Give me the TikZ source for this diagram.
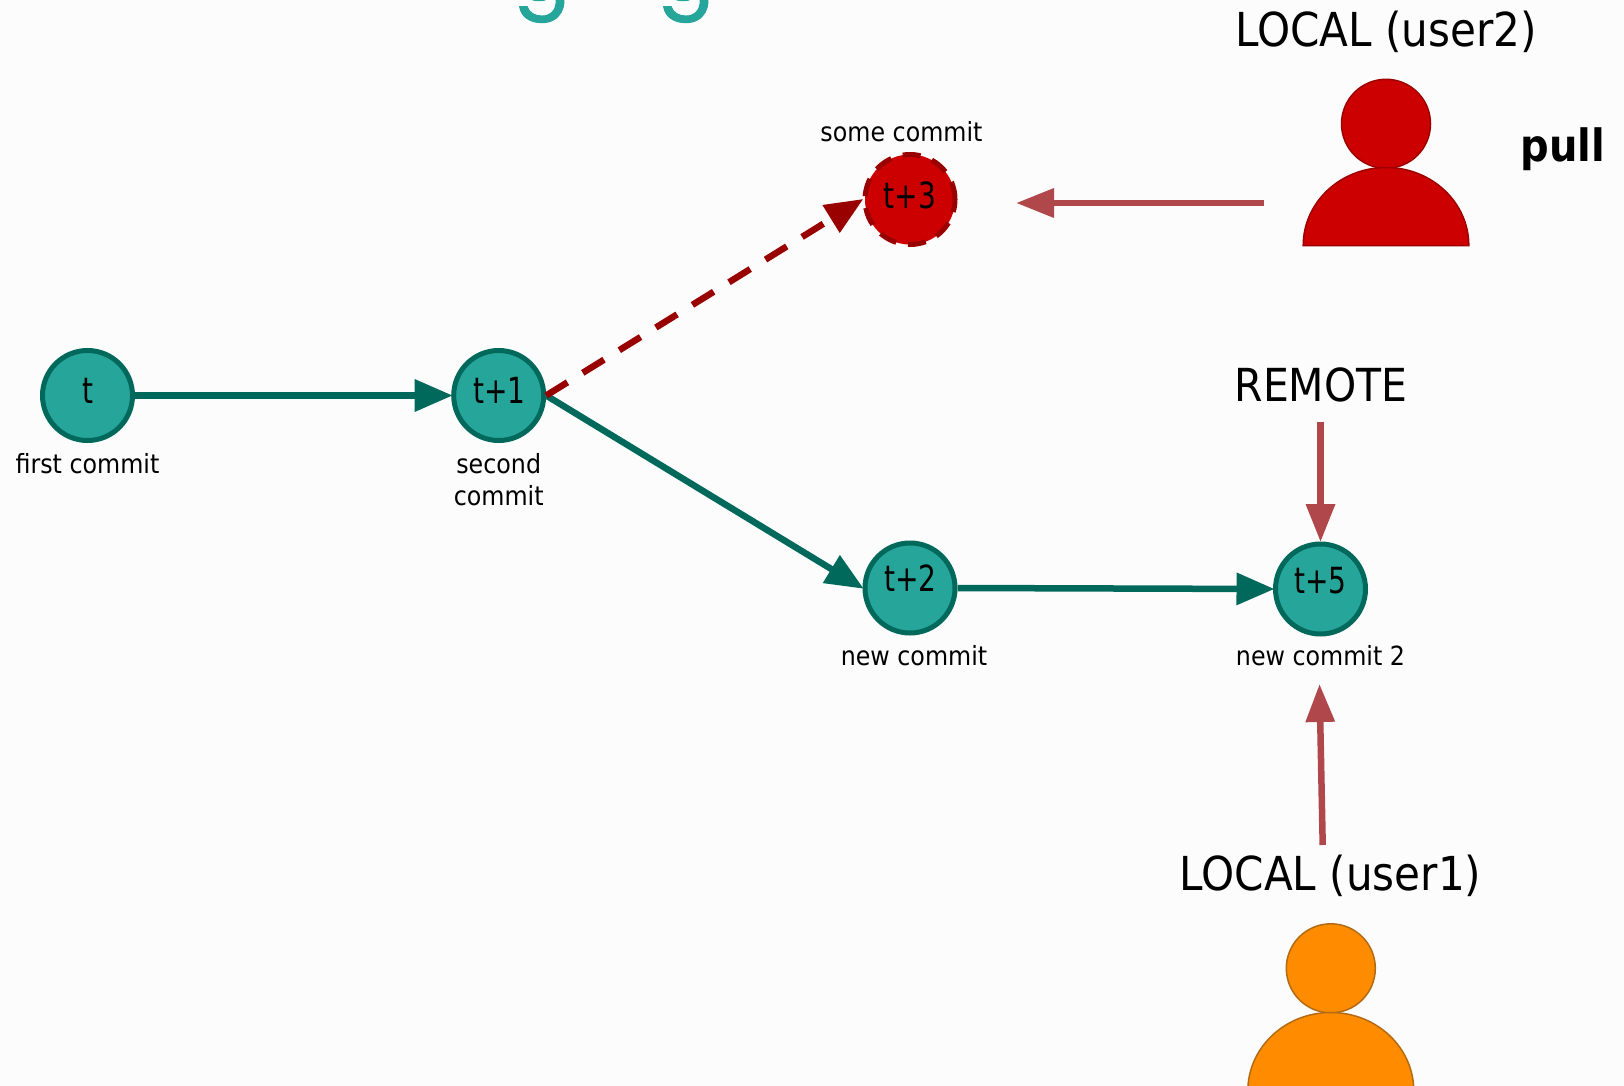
\documentclass[tikz,border=0pt]{standalone}
\usepackage{fontspec}
\setmainfont{DejaVu Sans}[FakeStretch=0.9]
\newfontfamily\narrowfont{DejaVu Sans}[FakeStretch=0.78]
\newfontfamily\titlefont{Poppins}[FakeBold=1.2]
\usetikzlibrary{arrows.meta}
\definecolor{bgc}{HTML}{FCFCFC}
\definecolor{teal1}{HTML}{26A69A}
\definecolor{teal2}{HTML}{00695C}
\definecolor{red1}{HTML}{CC0000}
\definecolor{red2}{HTML}{990000}
\definecolor{rose}{HTML}{B0474A}
\definecolor{orange1}{HTML}{FF8C00}
\definecolor{orange2}{HTML}{B36B12}
\tikzset{
 commit/.style={circle,draw=teal2,fill=teal1,line width=5pt,inner sep=0pt,minimum size=90pt},
 redcommit/.style={commit,draw=red2,fill=red1,dash pattern=on 18pt off 12pt},
 ctext/.style={anchor=base,inner sep=0pt,font=\narrowfont\fontsize{36}{40}\selectfont},
 small/.style={inner sep=0pt,align=center,font=\fontsize{26.4}{32}\selectfont},
 big/.style={inner sep=0pt,font=\fontsize{46.8}{50}\selectfont},
 link/.style={draw=teal2,line width=6.5pt,shorten >=-1.5pt,-{Triangle[length=38pt,width=31pt,fill=teal2]}},
 dashlink/.style={draw=red2,line width=6.5pt,shorten >=-1pt,dash pattern=on 25pt off 18pt,-{Triangle[length=38pt,width=31pt,fill=red2,sep=0pt]}},
 pointer/.style={draw=rose,line width=6.5pt,-{Triangle[length=38pt,width=28pt,fill=rose]}},
 persona/.style={fill=red1,draw=red2!90!red1,line width=1.5pt},
 personb/.style={fill=orange1,draw=orange2,line width=1.5pt},
 titleg/.style={anchor=base,inner sep=0pt,text=teal1,font=\titlefont\fontsize{84}{100}\selectfont}
}
\begin{document}
\begin{tikzpicture}[x=1pt,y=-1pt]
\useasboundingbox (0,0) rectangle (1624,1086);
\fill[bgc] (0,0) rectangle (1624,1086);
\begin{scope}
\clip (0,0) rectangle (1624,1086);
\node[titleg] (gone) at (542,0) {g};
\node[titleg] (gtwo) at (686,0) {g};
% commits
\node[commit] (c0) at (87.5,395.5) {};
\node[commit] (c1) at (498.7,395.5) {};
\node[commit] (c2) at (910,588) {};
\node[commit] (c5) at (1320.5,589) {};
\node[redcommit] (c3) at (910,199.5) {};
\node[ctext] (tc0) at (88,403) {t};
\node[ctext] (tc1) at (499.5,403) {t+1};
\node[ctext] (tc2) at (910.5,591) {t+2};
\node[ctext] (tc5) at (1320.5,593) {t+5};
\node[ctext] (tc3) at (910,208) {t+3};
% captions
\node[small] (l0) at (87.5,463.5) {first commit};
\node[small] (l1) at (498.7,479.5) {second\\commit};
\node[small] (l2) at (914,655.5) {new commit};
\node[small] (l5) at (1320.5,655.5) {new commit 2};
\node[small] (l3) at (901.5,131.5) {some commit};
\node[big] (luser2) at (1386,32) {LOCAL (user2)};
\node[big,font=\fontsize{45.5}{50}\selectfont] (lremote) at (1321,385) {REMOTE};
\node[big] (luser1) at (1330.5,876) {LOCAL (user1)};
\node[big,font=\bfseries\fontsize{44.5}{50}\selectfont] (lpull) at (1563,149) {pull};
% connectors
\draw[link] (c0.east) -- (c1.west);
\draw[link] (c1.east) -- (c2.west);
\draw[link] (c2.east) -- (c5.west);
\draw[dashlink] (c1.east) -- (c3.west);
% persons
\node[circle,persona,inner sep=0pt,minimum size=89pt] (head2) at (1386,123.8) {};
\path[persona] (1303.2,245.5) arc[start angle=180,end angle=360,x radius=82.8,y radius=78] -- cycle;
\node[circle,personb,inner sep=0pt,minimum size=89pt] (head1) at (1330.8,968.3) {};
\path[personb] (1247.8,1091) arc[start angle=180,end angle=360,x radius=83,y radius=78.5] -- cycle;
% pointers
\coordinate (p2a) at (1264,203);
\coordinate (p2b) at (1016,203);
\coordinate (pra) at (1320.5,421.5);
\coordinate (prb) at (1320.5,542);
\coordinate (p1a) at (1322.7,845);
\coordinate (p1b) at (1319.5,684);
\draw[pointer] (p2a) -- (p2b);
\draw[pointer] (pra) -- (prb);
\draw[pointer] (p1a) -- (p1b);
\end{scope}
\end{tikzpicture}
\end{document}
